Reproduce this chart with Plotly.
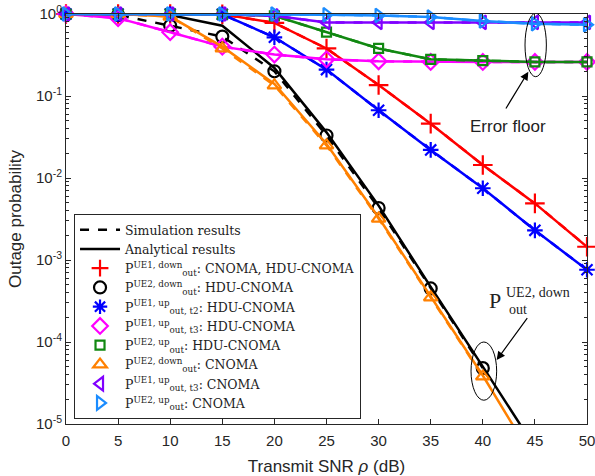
import numpy as np
import plotly.graph_objects as go

# ---------------- data ----------------
snr_db = [0, 5, 10, 15, 20, 25, 30, 35, 40, 45, 50]
snr_db_low = [0, 5, 10, 15, 20, 25, 30, 35, 40]           # simulated points of steep curves
snr_db_low_ext = [0, 5, 10, 15, 20, 25, 30, 35, 40, 45]   # analytical steep curves

p_ue1_down = [1.0, 1.0, 1.0, 0.99, 0.78, 0.38, 0.136, 0.046, 0.0144, 0.0049, 0.00145]
p_ue1_up_t2_hdu = [1.0, 1.0, 1.0, 0.99, 0.52, 0.21, 0.067, 0.022, 0.0075, 0.0023, 0.00076]
p_ue1_up_t3_hdu = [1.0, 0.89, 0.6, 0.4, 0.32, 0.28, 0.265, 0.26, 0.26, 0.26, 0.26]
p_ue2_up_hdu = [1.0, 1.0, 1.0, 0.99, 0.95, 0.6, 0.38, 0.28, 0.27, 0.26, 0.26]
p_ue1_up_t3_cnoma = [1.0, 1.0, 1.0, 1.0, 0.95, 0.79, 0.79, 0.79, 0.79, 0.79, 0.79]
p_ue2_up_cnoma = [1.0, 1.0, 1.0, 1.0, 1.0, 0.98, 0.96, 0.92, 0.82, 0.76, 0.74]

p_ue2_down_hdu_sim = [1.0, 0.97, 0.72, 0.53, 0.2, 0.033, 0.0043, 0.00045, 0.000048]
p_ue2_down_hdu_ana = [1.0, 1.0, 0.97, 0.72, 0.22, 0.036, 0.0046, 0.00047, 0.00005, 0.0000052]
p_ue2_down_cnoma_sim = [1.0, 1.0, 0.93, 0.38, 0.135, 0.025, 0.0032, 0.00035, 0.000038]
p_ue2_down_cnoma_ana = [1.0, 1.0, 0.93, 0.4, 0.14, 0.026, 0.0033, 0.00036, 0.000039, 0.0000035]

legend_names = [
    "P<sup>UE1, down</sup><sub>out</sub>: CNOMA, HDU-CNOMA",
    "P<sup>UE2, down</sup><sub>out</sub>: HDU-CNOMA",
    "P<sup>UE1, up</sup><sub>out, t2</sub>: HDU-CNOMA",
    "P<sup>UE1, up</sup><sub>out, t3</sub>: HDU-CNOMA",
    "P<sup>UE2, up</sup><sub>out</sub>: HDU-CNOMA",
    "P<sup>UE2, down</sup><sub>out</sub>: CNOMA",
    "P<sup>UE1, up</sup><sub>out, t3</sub>: CNOMA",
    "P<sup>UE2, up</sup><sub>out</sub>: CNOMA",
]

y_tick_vals = [1e-5, 1e-4, 1e-3, 1e-2, 1e-1, 1]
y_tick_text = ["10<sup>-5</sup>", "10<sup>-4</sup>", "10<sup>-3</sup>",
               "10<sup>-2</sup>", "10<sup>-1</sup>", "10<sup>0</sup>"]
x_tick_vals = [0, 5, 10, 15, 20, 25, 30, 35, 40, 45, 50]

# ---------------- styles ----------------
series = [
    # (x_sim, y_sim, x_ana, y_ana, color, symbol, size)
    (snr_db, p_ue1_down, snr_db, p_ue1_down, "#FF0000", "cross-thin-open", 14),
    (snr_db_low, p_ue2_down_hdu_sim, snr_db_low_ext, p_ue2_down_hdu_ana, "#000000", "circle-open", 12),
    (snr_db, p_ue1_up_t2_hdu, snr_db, p_ue1_up_t2_hdu, "#0000FF", "asterisk-open", 13),
    (snr_db, p_ue1_up_t3_hdu, snr_db, p_ue1_up_t3_hdu, "#FF00FF", "diamond-open", 12),
    (snr_db, p_ue2_up_hdu, snr_db, p_ue2_up_hdu, "#118811", "square-open", 9),
    (snr_db_low, p_ue2_down_cnoma_sim, snr_db_low_ext, p_ue2_down_cnoma_ana, "#FF8000", "triangle-up-open", 12),
    (snr_db, p_ue1_up_t3_cnoma, snr_db, p_ue1_up_t3_cnoma, "#8000FF", "triangle-left-open", 12),
    (snr_db, p_ue2_up_cnoma, snr_db, p_ue2_up_cnoma, "#1A8CFF", "triangle-right-open", 12),
]

fig = go.Figure()

fig.add_trace(go.Scatter(x=[None], y=[None], mode="lines", name="Simulation results",
                         line=dict(color="black", width=2.5, dash="dash")))
fig.add_trace(go.Scatter(x=[None], y=[None], mode="lines", name="Analytical results",
                         line=dict(color="black", width=2.5)))

for (xs, ys, xa, ya, col, sym, sz), nm in zip(series, legend_names):
    fig.add_trace(go.Scatter(x=xa, y=ya, mode="lines", showlegend=False,
                             line=dict(color=col, width=2.5)))
    fig.add_trace(go.Scatter(x=xs, y=ys, mode="lines+markers", showlegend=False,
                             cliponaxis=False,
                             line=dict(color=col, width=2.5, dash="dash"),
                             marker=dict(symbol=sym, size=sz, color=col,
                                         line=dict(color=col, width=2.2))))
    fig.add_trace(go.Scatter(x=[None], y=[None], mode="markers", name=nm,
                             marker=dict(symbol=sym, size=min(sz, 12), color=col,
                                         line=dict(color=col, width=2.2))))

axis_col = "#262626"
minor_vals = [m * 10.0 ** e for e in range(-5, 0) for m in range(2, 10)]

fig.update_layout(
    width=595, height=476,
    margin=dict(l=66, r=8, t=14, b=52),
    paper_bgcolor="white", plot_bgcolor="white",
    font=dict(family="Liberation Sans, Arial, sans-serif", size=15, color=axis_col),
    xaxis=dict(
        range=[0, 50], tickvals=x_tick_vals, ticks="inside", ticklen=5,
        tickcolor=axis_col, showline=True, linecolor=axis_col, linewidth=1,
        mirror="ticks", showgrid=False, zeroline=False, automargin=False,
        ticklabeloverflow="allow", ticklabelstandoff=3,
        title=dict(text="Transmit SNR <i>ρ</i> (dB)", font=dict(size=17), standoff=12),
        tickfont=dict(size=15),
    ),
    yaxis=dict(
        type="log", range=[-5, 0], tickvals=y_tick_vals, ticktext=y_tick_text,
        ticks="inside", ticklen=5, tickcolor=axis_col, showline=True,
        linecolor=axis_col, linewidth=1, mirror="ticks", showgrid=False,
        zeroline=False, automargin=False, ticklabeloverflow="allow",
        minor=dict(tickvals=minor_vals, ticks="inside", ticklen=3,
                   tickcolor=axis_col, showgrid=False),
        title=dict(text="Outage probability", font=dict(size=17), standoff=10),
        tickfont=dict(size=15),
    ),
    legend=dict(
        x=0.0154, y=0.512, xanchor="left", yanchor="top",
        bgcolor="white", bordercolor="#262626", borderwidth=1,
        font=dict(family="DejaVu Serif, serif", size=12.5, color="#222222"),
        itemwidth=40, tracegroupgap=0,
    ),
)

fig.add_shape(type="circle", xref="x", yref="y", x0=44.05, x1=46.1,
              y0=0.172, y1=1.02, line=dict(color="black", width=1))
fig.add_shape(type="circle", xref="x", yref="y", x0=38.87, x1=41.33,
              y0=1.95e-5, y1=1.0e-4, line=dict(color="black", width=1))

fig.add_annotation(x=44.37, y=-0.703, ax=42.13, ay=-1.17, axref="x", ayref="y",
                   xref="x", yref="y", text="", showarrow=True, arrowhead=2,
                   arrowsize=1.4, arrowwidth=1.2, arrowcolor="black")
fig.add_annotation(x=41.33, y=-4.22, ax=44.37, ay=-3.69, axref="x", ayref="y",
                   xref="x", yref="y", text="", showarrow=True, arrowhead=2,
                   arrowsize=1.4, arrowwidth=1.2, arrowcolor="black")

fig.add_annotation(x=42.45, y=-1.366, xref="x", yref="y", text="Error floor",
                   showarrow=False, font=dict(family="Liberation Sans, Arial", size=17, color="#222222"))
serif = "Liberation Serif, Times New Roman, serif"
fig.add_annotation(x=41.2, y=-3.49, xref="x", yref="y", text="P",
                   showarrow=False, font=dict(family=serif, size=22, color="#222222"))
fig.add_annotation(x=42.05, y=-3.40, xref="x", yref="y", text="UE2, down",
                   xanchor="left", showarrow=False, font=dict(family=serif, size=14, color="#222222"))
fig.add_annotation(x=42.3, y=-3.60, xref="x", yref="y", text="out",
                   xanchor="left", showarrow=False, font=dict(family=serif, size=14, color="#222222"))

fig.write_html("out.html", post_script="document.body.style.margin='0px';",
               config={"displayModeBar": False})
